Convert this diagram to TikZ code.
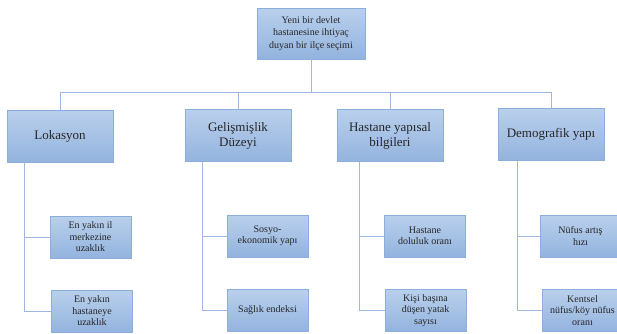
\documentclass[tikz,border=0pt]{standalone}
\usepackage{fontspec}
\setmainfont{Liberation Serif}
\usetikzlibrary{positioning,calc}
\definecolor{bxTop}{HTML}{B9D0EC}
\definecolor{bxBot}{HTML}{93B3DE}
\definecolor{bxLine}{HTML}{8BAEDC}
\definecolor{lnk}{HTML}{9DB9E2}
\tikzset{
  box/.style={draw=bxLine, top color=bxTop, bottom color=bxBot, align=center, inner sep=2pt, text=black!85},
  rootbox/.style={box, minimum width=108pt, minimum height=51pt, font=\fontsize{10}{12.5}\selectfont},
  mainbox/.style={box, minimum width=106pt, minimum height=52pt, font=\fontsize{13}{15}\selectfont},
  subbox/.style={box, minimum width=81pt, minimum height=42pt, font=\fontsize{10}{11.5}\selectfont},
  link/.style={draw=lnk, line width=0.9pt}
}

\begin{document}
\begin{tikzpicture}[x=1pt,y=-1pt]
  \fill[white] (0,0) rectangle (617,333);
  \useasboundingbox (0,0) rectangle (617,333);
  % top
  \node[rootbox] (root) at (311,33.5) {Yeni bir devlet\\hastanesine ihtiyaç\\duyan bir ilçe seçimi};
  % criteria
  \node[mainbox] (lok) at (60,136) {Lokasyon};
  \node[mainbox] (gel) at (238,135.5) {Gelişmişlik\\Düzeyi};
  \node[mainbox] (hys) at (390,135.5) {Hastane yapısal\\bilgileri};
  \node[mainbox] (dem) at (551,134.5) {Demografik yapı};
  % sub-criteria
  \node[subbox] (il) at (90.5,237) {En yakın il\\merkezine\\uzaklık};
  \node[subbox] (hst) at (92,311) {En yakın\\hastaneye\\uzaklık};
  \node[subbox] (sos) at (267.5,236) {Sosyo-\\ekonomik yapı};
  \node[subbox] (sag) at (267.5,310.5) {Sağlık endeksi};
  \node[subbox] (dol) at (425,236) {Hastane\\doluluk oranı};
  \node[subbox] (kis) at (425.5,310.5) {Kişi başına\\düşen yatak\\sayısı};
  \node[subbox] (nuf) at (580.5,236) {Nüfus artış\\hızı};
  \node[subbox] (ken) at (582.5,310.5) {Kentsel\\nüfus/köy nüfus\\oranı};

  \coordinate (bus) at (311,92);
  \draw[link] (root.south) -- (bus);
  \draw[link] (lok.north) -- (lok.north |- bus) -- (dem.north |- bus) -- (dem.north);
  \foreach \m in {gel,hys}
    \draw[link] (\m.north) -- (\m.north |- bus);

  \foreach \p/\a/\b/\dx in {lok/il/hst/18, gel/sos/sag/18, hys/dol/kis/23, dem/nuf/ken/20} {
    \coordinate (t) at ([xshift=\dx pt]\p.south west);
    \draw[link] (t) |- (\b.west);
    \draw[link] (t |- \a.west) -- (\a.west);
  }
\end{tikzpicture}
\end{document}
